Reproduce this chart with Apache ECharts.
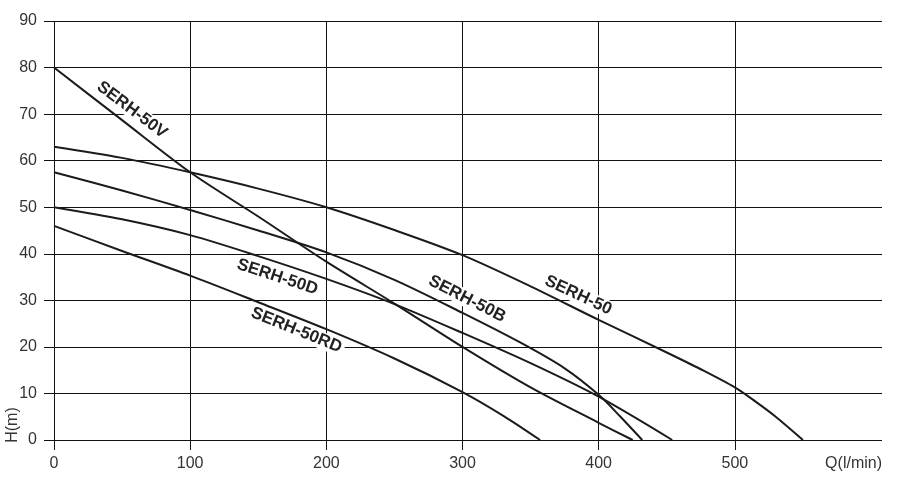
<!DOCTYPE html>
<html>
<head>
<meta charset="utf-8">
<script src="https://cdn.jsdelivr.net/npm/echarts@6/dist/echarts.min.js"></script>
<style>
  html, body { margin: 0; padding: 0; background: #fff; }
  #main { width: 907px; height: 488px; }
</style>
</head>
<body>
<div id="main"></div>
<script>
// pump curves, Q (l/min) vs H (m)
var serh50 = [[0, 63], [50, 60.6], [100, 57.5], [150, 54], [200, 50], [250, 45.1], [300, 39.7], [350, 33], [400, 25.8], [450, 18.8], [475, 15.2], [500, 11.3], [515, 8.3], [530, 5], [550, 0]];
var serh50v = [[0, 80], [50, 68.7], [100, 57.5], [150, 48], [200, 38.3], [250, 29.3], [300, 20], [350, 11.3], [400, 3.7], [425, 0]];
var serh50b = [[0, 57.5], [50, 53.6], [100, 49.4], [150, 45], [200, 40.3], [250, 34.4], [300, 27.3], [342, 21], [375, 15.4], [400, 9.7], [416, 5], [432, 0]];
var serh50d = [[0, 50], [50, 47.4], [100, 44], [150, 39.5], [200, 34.6], [250, 29.2], [300, 23], [350, 16.5], [400, 9.3], [454, 0]];
var serh50rd = [[0, 46], [50, 40.6], [100, 35.3], [150, 29.6], [200, 23.8], [250, 17.5], [300, 10.3], [330, 5.2], [357, 0]];

var xTicks = [0, 100, 200, 300, 400, 500];

// label anchors [x, H, rotate]
var labels = {
    'SERH-50': [385, 31.1, -25],
    'SERH-50V': [57.3, 70.9, -37],
    'SERH-50B': [303.3, 30.3, -27],
    'SERH-50D': [164, 35, -18],
    'SERH-50RD': [178, 23.6, -22]
};

var FONT = '"Liberation Sans Narrow", "Arial Narrow", "Liberation Sans", Arial, sans-serif';

var dom = document.getElementById('main');
var myChart = echarts.init(dom);

function curve(name, data) {
    var lab = labels[name];
    return {
        name: name,
        type: 'line',
        data: data,
        smooth: 0.3,
        symbol: 'none',
        lineStyle: { color: '#1b1b1b', width: 2 },
        z: 3,
        markPoint: {
            symbol: 'circle',
            symbolSize: 0,
            silent: true,
            data: [{
                coord: [lab[0], lab[1]],
                label: {
                    show: true,
                    position: 'inside',
                    formatter: name,
                    rotate: lab[2],
                    fontFamily: FONT,
                    fontSize: 17,
                    fontWeight: 'bold',
                    color: '#222',
                    backgroundColor: '#fff',
                    padding: [0, 3]
                }
            }]
        }
    };
}

var option = {
    backgroundColor: '#FFFFFF',
    animation: false,
    grid: {
        top: 21,
        bottom: 48,
        left: 54,
        right: 36
    },
    xAxis: {
        type: 'value',
        min: 0,
        max: 600,
        interval: 100,
        name: 'Q(l/min)',
        nameLocation: 'end',
        nameGap: 11,
        nameTextStyle: {
            fontFamily: FONT,
            fontSize: 16,
            color: '#333',
            align: 'right',
            verticalAlign: 'top',
            padding: [16, 0, 0, 0]
        },
        axisLine: { show: true, lineStyle: { color: '#111', width: 1 } },
        axisTick: { show: true, length: 10, customValues: xTicks, lineStyle: { color: '#111' } },
        axisLabel: {
            customValues: xTicks,
            margin: 16,
            fontFamily: FONT,
            fontSize: 16,
            color: '#333'
        },
        splitLine: { show: true, lineStyle: { color: '#111', width: 1 } }
    },
    yAxis: [{
            type: 'value',
            min: 0,
            max: 90,
            interval: 10,
            axisLine: { show: false },
            axisTick: { show: true, length: 10, lineStyle: { color: '#111' } },
            axisLabel: {
                margin: 17,
                fontFamily: FONT,
                fontSize: 16,
                color: '#333'
            },
            splitLine: { show: true, lineStyle: { color: '#111', width: 1 } }
        },
        {
            type: 'value',
            position: 'right',
            min: 0,
            max: 90,
            interval: 10,
            axisLine: { show: false },
            axisTick: { show: true, length: 11, lineStyle: { color: '#111' } },
            axisLabel: { show: false },
            splitLine: { show: false }
        }
    ],
    graphic: [{
        type: 'text',
        x: 13,
        y: 425,
        rotation: Math.PI / 2,
        style: {
            text: 'H(m)',
            fontFamily: FONT,
            fontSize: 16,
            fill: '#333',
            align: 'center',
            verticalAlign: 'middle'
        }
    }],
    series: [
        curve('SERH-50', serh50),
        curve('SERH-50V', serh50v),
        curve('SERH-50B', serh50b),
        curve('SERH-50D', serh50d),
        curve('SERH-50RD', serh50rd)
    ]
};

if (option && typeof option === 'object') {
    myChart.setOption(option);
}
</script>
</body>
</html>
